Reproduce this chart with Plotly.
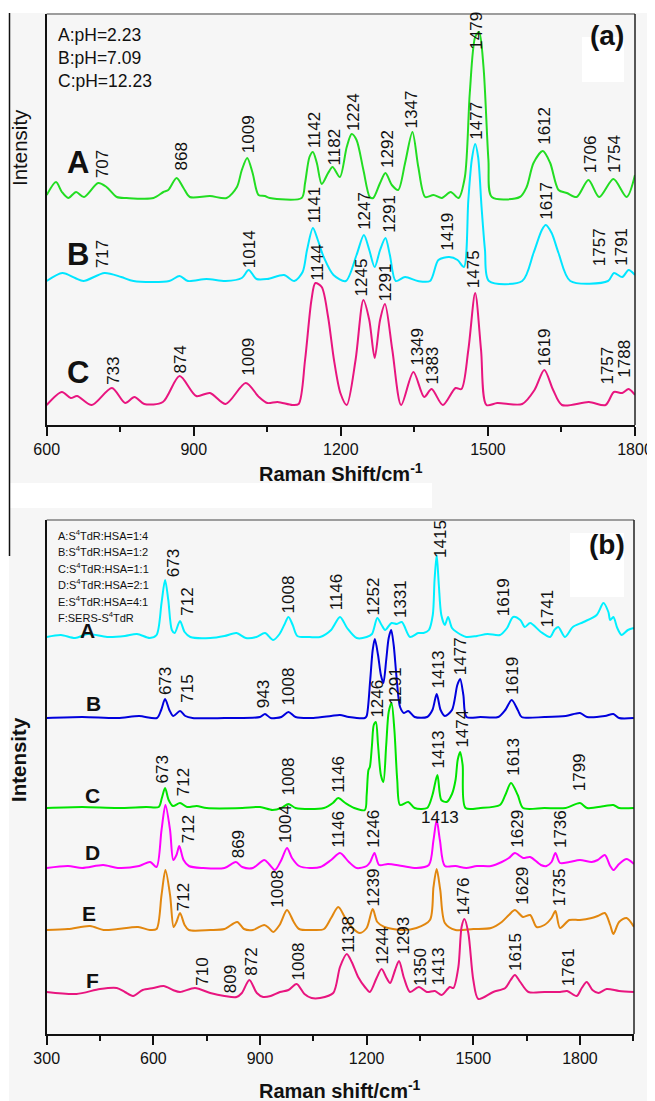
import plotly.graph_objects as go

# The page body keeps an 8 px margin, so the figure is 8 px smaller than the window
# and every reference pixel position is shifted by OFF.
OFF = 8
W, H = 655 - OFF, 1101 - OFF
FONT = "Liberation Sans, Arial, Helvetica, sans-serif"
BG = "#f6f6f6"

# ---------------- Panel (a): pH series (Raman shift cm-1, intensity a.u.) ----------------
aA_x = [600,619,631,644,660,676,705,722,743,763,818,838,848,865,879,892,933,967,988,998,
        1009,1020,1032,1045,1055,1120,1127,1136,1143,1151,1161,1174,1183,1198,1212,1222,1232,1246,1259,1266,
        1280,1291,1304,1317,1331,1346,1358,1372,1389,1406,1424,1440,1453,1463,1474,1482,1491,1501,1508,1565,
        1579,1593,1612,1627,1644,1661,1681,1705,1727,1756,1783,1800]
aA_y = [230,243,233,227,233,228,242,238,228,227,227,233,235,247,237,228,229,227,238,255,
        267,252,230,229,227,227,242,268,273,262,241,252,258,248,278,291,285,255,228,227,
        242,252,240,235,262,293,258,228,230,227,233,227,248,332,388,393,358,265,228,228,
        238,262,274,262,235,232,228,245,228,246,228,250]

aB_x = [600,632,658,675,718,752,777,850,871,888,926,965,998,1012,1028,1050,1084,1105,1122,1131,
        1143,1153,1165,1185,1210,1232,1247,1258,1269,1280,1291,1300,1312,1331,1357,1382,1399,1421,1438,1451,
        1460,1467,1474,1480,1487,1494,1502,1570,1593,1610,1618,1630,1644,1668,1745,1757,1774,1787,1800]
aB_y = [144,152,147,144,152,148,144,144,149,144,146,144,147,155,146,146,150,144,153,175,
        197,185,168,150,144,170,190,175,158,175,187,170,144,148,144,144,165,168,165,158,
        225,265,281,268,218,175,144,144,172,195,200,192,172,144,144,152,148,155,150]

aC_x = [600,631,649,662,692,733,760,779,799,837,871,905,933,965,1006,1033,1050,1071,1101,1114,
        1127,1140,1148,1161,1174,1186,1199,1212,1230,1246,1258,1269,1280,1290,1305,1323,1348,1370,1385,1408,
        1434,1446,1460,1474,1486,1497,1519,1570,1595,1615,1633,1651,1706,1740,1757,1774,1787,1800]
aC_y = [20,33,27,29,20,37,22,28,21,23,49,29,32,21,42,28,22,23,20,21,
        65,125,142,138,108,65,32,20,65,125,105,67,105,121,75,20,53,28,36,20,
        37,36,75,132,75,20,22,21,35,55,35,20,23,20,33,32,36,30]

aA_lab = ["707","868","1009","1142","1182","1224","1292","1347","1479","1612","1706","1754"]
aA_lab_x = [715,875,1013,1147,1188,1227,1296,1346,1477,1616,1711,1759]
aA_lab_y = [245,252,270,275,258,292,255,295,373,278,250,250]
aB_lab = ["717","1014","1141","1247","1291","1419","1477","1617","1757","1791"]
aB_lab_x = [715,1015,1147,1249,1300,1418,1477,1620,1729,1773]
aB_lab_y = [155,155,200,193,190,172,283,203,157,157]
aC_lab = ["733","874","1009","1144","1245","1291","1349","1383","1475","1619","1757","1788"]
aC_lab_x = [737,873,1012,1152,1244,1293,1357,1387,1472,1617,1744,1779]
aC_lab_y = [38,49,47,142,127,122,57,38,135,57,38,45]

a_legend = ["A:pH=2.23", "B:pH=7.09", "C:pH=12.23"]
a_names = ["A", "B", "C"]

# ---------------- Panel (b): S4TdR:HSA series ----------------
bA_x = [300,340,380,416,470,520,554,590,609,623,633,642,652,660,675,688,704,760,800,834,
        860,890,914,937,955,968,980,992,1005,1040,1069,1100,1125,1145,1172,1200,1215,1230,1242,1252,
        1270,1285,1299,1322,1345,1360,1375,1386,1391,1397,1403,1410,1420,1429,1440,1453,1480,1510,1540,1575,
        1595,1612,1632,1645,1660,1690,1716,1728,1739,1758,1780,1810,1847,1866,1880,1885,1894,1905,1917,1935,1952]
bA_y = [397,399,396,400,397,398,400,396,399,431,454,434,404,401,413,402,397,396,398,401,
        396,397,401,394,400,409,417,409,398,397,397,404,417,406,396,397,400,416,409,404,
        411,410,412,397,401,401,404,419,454,479,449,419,409,417,406,402,397,398,400,399,
        406,417,414,407,411,402,397,404,407,397,407,412,419,431,422,414,417,406,399,404,406]

bB_x = [300,400,500,560,610,622,633,645,656,675,690,710,800,900,914,930,960,980,1000,1050,
        1100,1125,1150,1195,1200,1210,1217,1223,1232,1240,1247,1255,1262,1269,1276,1284,1294,1305,1317,1335,
        1370,1385,1397,1408,1420,1440,1455,1463,1472,1481,1520,1570,1590,1608,1625,1636,1700,1760,1800,1820,
        1870,1894,1910,1952]
bB_y = [316,317,316,318,316,324,335,324,318,323,318,316,316,317,320,316,317,322,317,316,
        318,319,317,316,318,354,384,395,379,359,351,374,396,404,389,357,327,321,323,317,
        317,324,340,324,318,324,349,355,339,317,317,317,324,334,324,317,317,318,321,317,
        318,320,316,316]

bC_x = [300,400,500,580,615,624,633,643,655,675,695,722,750,850,900,935,960,980,1000,1080,
        1105,1120,1140,1165,1195,1200,1205,1209,1215,1220,1226,1232,1240,1247,1255,1262,1270,1278,1286,1294,
        1317,1335,1370,1385,1399,1410,1425,1440,1450,1456,1463,1470,1478,1520,1575,1590,1606,1625,1640,1700,
        1760,1800,1820,1870,1894,1910,1952]
bC_y = [226,227,226,227,227,236,246,234,228,231,227,228,226,226,227,224,226,230,226,226,
        231,236,231,226,224,239,264,267,289,309,312,289,259,252,289,322,331,304,254,229,
        232,226,226,239,259,234,232,240,254,274,282,269,226,226,229,239,251,239,226,226,
        226,231,226,228,229,226,226]

bD_x = [300,360,400,459,500,560,591,609,623,634,647,656,665,673,685,700,740,800,832,850,
        880,912,925,942,960,976,990,1010,1040,1070,1100,1125,1150,1172,1200,1210,1222,1235,1260,1300,
        1340,1375,1388,1397,1406,1420,1450,1480,1510,1550,1580,1600,1617,1640,1660,1690,1706,1720,1731,1744,
        1770,1800,1833,1850,1870,1885,1894,1910,1931,1952]
bD_y = [166,168,166,169,166,168,172,167,204,229,204,174,179,188,174,168,166,166,172,167,
        166,174,170,164,174,186,176,168,166,167,174,181,172,166,168,172,181,169,170,168,
        166,169,194,214,194,168,168,166,168,168,172,176,181,176,177,169,168,172,181,171,
        172,174,172,174,179,168,164,170,175,170]

bE_x = [300,360,422,460,500,557,590,609,623,634,647,657,665,675,688,700,760,800,836,855,
        880,912,925,937,955,976,995,1010,1050,1080,1100,1120,1140,1160,1181,1200,1217,1230,1250,1300,
        1340,1378,1388,1397,1407,1420,1450,1500,1550,1580,1600,1617,1640,1660,1678,1700,1720,1731,1744,1770,
        1800,1833,1850,1870,1885,1894,1910,1931,1952]
bE_y = [104,105,108,104,105,107,104,105,139,164,139,107,112,121,109,104,104,105,112,105,
        104,109,106,102,109,124,112,105,104,105,116,127,116,106,101,106,125,112,107,104,
        106,114,147,165,144,111,104,105,106,112,119,124,117,119,107,109,116,123,106,114,
        114,116,118,121,109,100,112,116,107]

bF_x = [300,384,450,497,520,543,570,600,629,655,675,717,760,800,834,849,870,891,909,930,
        956,980,1003,1025,1045,1069,1106,1125,1144,1158,1176,1195,1209,1228,1242,1256,1266,1280,1291,1305,
        1322,1347,1369,1392,1411,1434,1444,1458,1467,1475,1486,1500,1514,1556,1590,1605,1617,1632,1655,1700,
        1744,1764,1791,1805,1819,1835,1852,1875,1910,1952]
bF_y = [42,40,45,46,42,38,44,46,48,44,42,46,41,38,37,41,54,41,37,38,
        42,44,50,40,36,36,41,67,80,72,57,47,42,56,65,56,51,64,73,56,
        42,47,42,43,39,47,46,67,107,115,101,54,35,42,46,54,59,52,42,42,
        42,43,38,46,52,44,41,45,43,42]

bA_lab = ["673","712","1008","1146","1252","1331","1415","1619","1741"]
bA_lab_x = [656,694,980,1116,1219,1294,1406,1584,1706]
bA_lab_y = [455,416,419,422,417,414,474,416,404]
bB_lab = ["673","715","943","1008","1413","1477","1619"]
bB_lab_x = [633,694,909,980,1402,1463,1608]
bB_lab_y = [337,329,324,327,344,357,337]
bC_lab = ["673","712","1008","1146","1246","1291","1413","1474","1613","1799"]
bC_lab_x = [623,684,980,1120,1228,1280,1402,1467,1611,1798]
bC_lab_y = [248,236,237,239,314,327,264,284,256,241]
bD_lab = ["712","869","1004","1146","1246","1629","1736"]
bD_lab_x = [698,839,970,1120,1217,1622,1744]
bD_lab_y = [189,174,189,184,184,184,184]
bD_flat_lab, bD_flat_x, bD_flat_y = "1413", 1407, 217
bE_lab = ["712","1008","1239","1629","1735"]
bE_lab_x = [684,947,1219,1636,1742]
bE_lab_y = [121,124,126,127,126]
bF_lab = ["1476","710","809","872","1008","1138","1244","1293","1350","1413","1615","1761"]
bF_lab_x = [1472,736,816,874,1008,1148,1242,1301,1350,1402,1617,1767]
bF_lab_y = [117,46,39,56,52,79,67,77,46,47,61,46]

b_legend = ["A:S<sup>4</sup>TdR:HSA=1:4", "B:S<sup>4</sup>TdR:HSA=1:2", "C:S<sup>4</sup>TdR:HSA=1:1",
            "D:S<sup>4</sup>TdR:HSA=2:1", "E:S<sup>4</sup>TdR:HSA=4:1", "F:SERS-S<sup>4</sup>TdR"]
b_names = ["A", "B", "C", "D", "E", "F"]

# ---------------- figure ----------------
def fx(p):
    return (p - OFF) / W

def fy(p):
    return 1 - (p - OFF) / H

fig = go.Figure()

for xs, ys, c in [(aA_x, aA_y, "#22dd22"), (aB_x, aB_y, "#00e5ff"), (aC_x, aC_y, "#e8157f")]:
    fig.add_trace(go.Scatter(x=xs, y=ys, mode="lines", xaxis="x", yaxis="y",
                             line=dict(color=c, width=2, shape="spline", smoothing=0.8),
                             hoverinfo="skip", showlegend=False))

for xs, ys, c in [(bA_x, bA_y, "#00f0ff"), (bB_x, bB_y, "#0000dd"), (bC_x, bC_y, "#00e400"),
                  (bD_x, bD_y, "#ff00ff"), (bE_x, bE_y, "#e2870f"), (bF_x, bF_y, "#e8157f")]:
    fig.add_trace(go.Scatter(x=xs, y=ys, mode="lines", xaxis="x2", yaxis="y2",
                             line=dict(color=c, width=2, shape="spline", smoothing=0.8),
                             hoverinfo="skip", showlegend=False))

ann = []
LBL = dict(family=FONT, size=17, color="#111")

def peak_labels(texts, xs, ys, xr, yr):
    for t, x, y in zip(texts, xs, ys):
        ann.append(dict(text=t, x=x, y=y, xref=xr, yref=yr, textangle=-90,
                        xanchor="center", yanchor="bottom", showarrow=False, font=LBL))

peak_labels(aA_lab, aA_lab_x, aA_lab_y, "x", "y")
peak_labels(aB_lab, aB_lab_x, aB_lab_y, "x", "y")
peak_labels(aC_lab, aC_lab_x, aC_lab_y, "x", "y")
for t, xs, ys in [(bA_lab, bA_lab_x, bA_lab_y), (bB_lab, bB_lab_x, bB_lab_y), (bC_lab, bC_lab_x, bC_lab_y),
                  (bD_lab, bD_lab_x, bD_lab_y), (bE_lab, bE_lab_x, bE_lab_y), (bF_lab, bF_lab_x, bF_lab_y)]:
    peak_labels(t, xs, ys, "x2", "y2")
ann.append(dict(text=bD_flat_lab, x=bD_flat_x, y=bD_flat_y, xref="x2", yref="y2",
                xanchor="center", yanchor="middle", showarrow=False, font=LBL))

def paper_text(text, xp, yp, size, bold=False, xanchor="center", color="#111"):
    ann.append(dict(text=text, x=fx(xp), y=fy(yp), xref="paper", yref="paper",
                    xanchor=xanchor, yanchor="middle", showarrow=False,
                    font=dict(family=FONT, size=size, color=color,
                              weight="bold" if bold else "normal")))

# legends
for i, t in enumerate(a_legend):
    paper_text(t, 56, 35 + 23 * i, 17.5, xanchor="left")
for i, t in enumerate(b_legend):
    paper_text(t, 56, 535 + 16.4 * i, 11, xanchor="left")

# series letters
for n, yp in zip(a_names, [162, 255, 372]):
    paper_text(n, 78, yp, 31, bold=True)
for n, xp, yp in zip(b_names, [87, 93, 92, 92, 89, 92], [630, 703, 795, 852, 913, 980]):
    paper_text(n, xp, yp, 21, bold=True)

# panel tags
paper_text("(a)", 607, 36, 28, bold=True)
paper_text("(b)", 607, 545, 28, bold=True)

# axis titles
paper_text("Raman Shift/cm<sup>-1</sup>", 341, 472, 20, bold=True)
paper_text("Raman shift/cm<sup>-1</sup>", 340, 1089, 20, bold=True)
ann.append(dict(text="Intensity", x=fx(19), y=fy(148), xref="paper", yref="paper", textangle=-90,
                showarrow=False, xanchor="center", yanchor="middle",
                font=dict(family=FONT, size=20.5, color="#111")))
ann.append(dict(text="Intensity", x=fx(18), y=fy(760), xref="paper", yref="paper", textangle=-90,
                showarrow=False, xanchor="center", yanchor="middle",
                font=dict(family=FONT, size=20.5, color="#111", weight="bold")))

shapes = []
def wrect(x0, y0, x1, y1):
    shapes.append(dict(type="rect", xref="paper", yref="paper", x0=fx(x0), x1=fx(x1),
                       y0=fy(y1), y1=fy(y0), fillcolor="white", line=dict(width=0), layer="below"))

wrect(OFF, OFF, 655, 13)
wrect(OFF, OFF, 9, 1101)
wrect(9, 483, 432, 508)
wrect(582, 37, 624, 82)
wrect(570, 533, 624, 597)

for xa, ya in [("x", "y"), ("x2", "y2")]:
    shapes.append(dict(type="line", xref=xa + " domain", yref=ya + " domain", x0=0, x1=1, y0=1, y1=1,
                       line=dict(color="#444", width=1.2), layer="above"))
    shapes.append(dict(type="line", xref=xa + " domain", yref=ya + " domain", x0=1, x1=1, y0=0, y1=1,
                       line=dict(color="#222", width=1.5), layer="above"))
shapes.append(dict(type="line", xref="paper", yref="paper", x0=fx(9.5), x1=fx(9.5), y0=fy(556), y1=fy(13),
                   line=dict(color="#111", width=1.5)))

ax_line = dict(showgrid=False, zeroline=False, showline=True, linecolor="#111", linewidth=1.5,
               automargin=False)
xtick = dict(tickmode="linear", dtick=300, ticks="outside", ticklen=9, tickwidth=1.5, tickcolor="#111",
             tickfont=dict(family=FONT, size=16, color="#111"), ticklabelstandoff=0)

fig.update_layout(
    width=W, height=H, margin=dict(l=0, r=0, t=0, b=0, pad=0, autoexpand=False),
    paper_bgcolor=BG, plot_bgcolor=BG, showlegend=False,
    xaxis=dict(domain=[fx(46.7), fx(635)], range=[600, 1800], anchor="y", tick0=600,
               minor=dict(dtick=150, tick0=600, ticks="outside", ticklen=5, tickwidth=1.5, tickcolor="#111"),
               **xtick, **ax_line),
    yaxis=dict(domain=[fy(425), fy(14)], range=[0, 411], anchor="x", showticklabels=False, ticks="",
               **ax_line),
    xaxis2=dict(domain=[fx(46.7), fx(634)], range=[300, 1952], anchor="y2", tick0=300,
                minor=dict(dtick=150, tick0=300, ticks="outside", ticklen=5, tickwidth=1.5, tickcolor="#111"),
                **xtick, **ax_line),
    yaxis2=dict(domain=[fy(1034), fy(520)], range=[0, 514], anchor="x2", showticklabels=False, ticks="",
                **ax_line),
    annotations=ann, shapes=shapes,
)

fig.write_html("out.html")
